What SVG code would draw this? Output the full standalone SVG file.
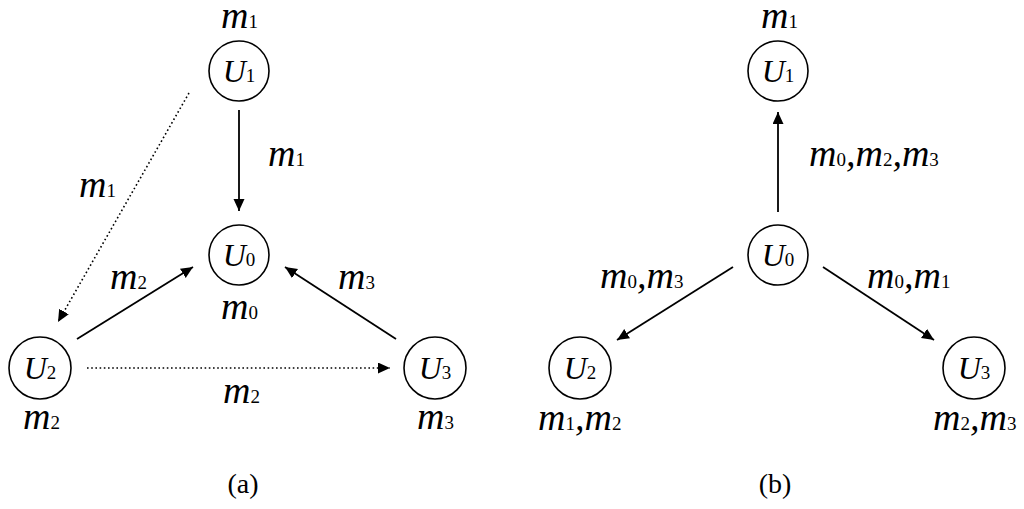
<svg xmlns="http://www.w3.org/2000/svg" width="1024" height="509" viewBox="0 0 1024 509">
<defs>
<marker id="ah" markerUnits="userSpaceOnUse" markerWidth="14" markerHeight="12" refX="12" refY="5.5" orient="auto">
<path d="M0,0 L12,5.5 L0,11 Z" fill="#000"/>
</marker>
</defs>
<style>
.node circle{fill:#fff;stroke:#000;stroke-width:1.6}
text{fill:#000;font-family:'Liberation Serif','Times New Roman','DejaVu Serif',serif}
.U{font-style:italic;font-size:32px}
.m{font-style:italic;font-size:38px}
.s{font-style:normal;font-size:19px}
.cap{font-size:28px}
.solid{stroke:#000;stroke-width:1.8;fill:none;marker-end:url(#ah)}
.dot{stroke:#000;stroke-width:1.6;fill:none;stroke-dasharray:1.6 2.6;marker-end:url(#ah)}
</style>
<rect width="1024" height="509" fill="#fff"/>
<g id="connectors">
<line class="solid" x1="239" y1="110" x2="239" y2="211"/>
<line class="dot" x1="189" y1="93" x2="58" y2="322"/>
<line class="solid" x1="77" y1="339" x2="193" y2="267"/>
<line class="solid" x1="396" y1="339" x2="285" y2="267"/>
<line class="dot" x1="87" y1="368" x2="390" y2="368"/>
<line class="solid" x1="778" y1="212" x2="778" y2="112"/>
<line class="solid" x1="733" y1="267" x2="617" y2="340"/>
<line class="solid" x1="823" y1="267" x2="934" y2="340"/>
</g>
<g id="labels-a">
<text class="m" x="268" y="166">m<tspan class="s">1</tspan></text>
<text class="m" x="79" y="197">m<tspan class="s">1</tspan></text>
<text class="m" x="110" y="289">m<tspan class="s">2</tspan></text>
<text class="m" x="338" y="289">m<tspan class="s">3</tspan></text>
<text class="m" x="223" y="403">m<tspan class="s">2</tspan></text>
<text class="cap" x="243" y="493" text-anchor="middle">(a)</text>
</g>
<g id="a-U1" class="node"><circle cx="239" cy="71" r="30"/><text class="U" x="239" y="82" text-anchor="middle">U<tspan class="s">1</tspan></text><text class="m" x="221" y="28">m<tspan class="s">1</tspan></text></g>
<g id="a-U0" class="node"><circle cx="239" cy="255" r="30"/><text class="U" x="239" y="266" text-anchor="middle">U<tspan class="s">0</tspan></text><text class="m" x="221" y="319">m<tspan class="s">0</tspan></text></g>
<g id="a-U2" class="node"><circle cx="40" cy="368" r="31"/><text class="U" x="40" y="379" text-anchor="middle">U<tspan class="s">2</tspan></text><text class="m" x="23" y="429">m<tspan class="s">2</tspan></text></g>
<g id="a-U3" class="node"><circle cx="435" cy="368" r="31"/><text class="U" x="435" y="379" text-anchor="middle">U<tspan class="s">3</tspan></text><text class="m" x="417" y="429">m<tspan class="s">3</tspan></text></g>
<g id="labels-b">
<text class="m" x="809" y="166">m<tspan class="s">0</tspan>,m<tspan class="s">2</tspan>,m<tspan class="s">3</tspan></text>
<text class="m" x="600" y="288">m<tspan class="s">0</tspan>,m<tspan class="s">3</tspan></text>
<text class="m" x="867" y="288">m<tspan class="s">0</tspan>,m<tspan class="s">1</tspan></text>
<text class="cap" x="775" y="493" text-anchor="middle">(b)</text>
</g>
<g id="b-U1" class="node"><circle cx="778" cy="71" r="30"/><text class="U" x="778" y="82" text-anchor="middle">U<tspan class="s">1</tspan></text><text class="m" x="761" y="28">m<tspan class="s">1</tspan></text></g>
<g id="b-U0" class="node"><circle cx="778" cy="255" r="30"/><text class="U" x="778" y="266" text-anchor="middle">U<tspan class="s">0</tspan></text></g>
<g id="b-U2" class="node"><circle cx="580" cy="368" r="31"/><text class="U" x="580" y="379" text-anchor="middle">U<tspan class="s">2</tspan></text><text class="m" x="538" y="430">m<tspan class="s">1</tspan>,m<tspan class="s">2</tspan></text></g>
<g id="b-U3" class="node"><circle cx="974" cy="368" r="31"/><text class="U" x="974" y="379" text-anchor="middle">U<tspan class="s">3</tspan></text><text class="m" x="933" y="430">m<tspan class="s">2</tspan>,m<tspan class="s">3</tspan></text></g>
</svg>
